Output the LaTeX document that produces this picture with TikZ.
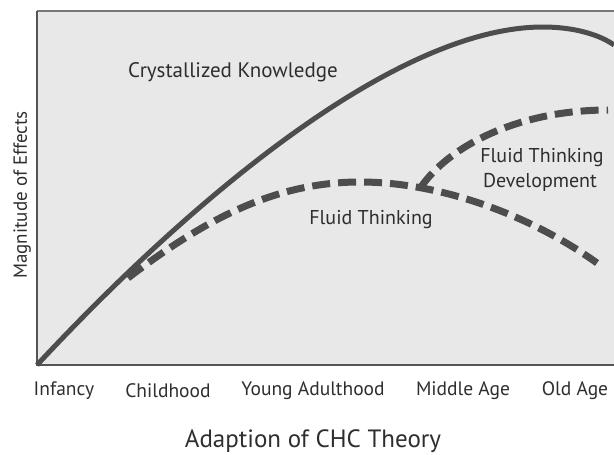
\documentclass[tikz,border=0pt]{standalone}
\usepackage{fontspec}
\setmainfont{PT Sans}
\definecolor{curvec}{HTML}{4D4D4D}
\definecolor{panelc}{HTML}{E8E8E8}
\definecolor{textc}{HTML}{2E2E2E}
\definecolor{framec}{HTML}{555555}
\begin{document}
\begin{tikzpicture}[x=1pt,y=-1pt,
  crys/.style={draw=curvec, line width=5pt, line join=round},
  fluid/.style={draw=curvec, line width=7pt, dash pattern=on 18pt off 8pt},
  lbl/.style={text=textc, inner sep=0pt, anchor=base, font=\fontsize{20}{24}\selectfont},
  axl/.style={lbl, font=\fontsize{19.5}{22}\selectfont}]
\useasboundingbox (0,0) rectangle (614,455);
\fill[panelc] (37,11) rectangle (614,365);
\draw[line width=1.5pt, draw=framec!80] (37,11) -- (614,11);
\draw[line width=2pt, draw=framec] (37,11) -- (37,365) -- (614,365);
% curves
\coordinate (c0) at (37,365);
\coordinate (cpeak) at (543,27);
\coordinate (cend) at (614,45);
\draw[crys] (c0) .. controls (200,190) and (400,27) .. (cpeak)
  .. controls (575,27) and (600,35) .. (cend);
\coordinate (f0) at (128,278);
\coordinate (fpeak) at (360,182);
\coordinate (fend) at (597,263);
\coordinate (junction) at (421,187);
\coordinate (dend) at (608,110);
\draw[fluid] (f0) .. controls (210,215) and (280,182) .. (fpeak)
  .. controls (440,182) and (530,215) .. (fend);
\draw[fluid] (junction) .. controls (450,145) and (520,110) .. (dend);
% labels
\node[lbl, font=\fontsize{21}{24}\selectfont] (ck) at (233,77) {Crystallized Knowledge};
\node[lbl] (ft) at (371,224) {Fluid Thinking};
\node[lbl] (ftd1) at (542,162) {Fluid Thinking};
\node[lbl] (ftd2) at (540,187) {Development};
\node[lbl, rotate=90, font=\fontsize{19}{22}\selectfont] (ylab) at (27,195) {Magnitude of Effects};
\node[axl] (x1) at (64,395) {Infancy};
\node[axl] (x2) at (168,397) {Childhood};
\node[axl] (x3) at (313,395) {Young Adulthood};
\node[axl] (x4) at (463,395) {Middle Age};
\node[axl] (x5) at (575,395) {Old Age};
\node[lbl, font=\fontsize{25}{28}\selectfont] (title) at (313,447) {Adaption of CHC Theory};
\end{tikzpicture}
\end{document}
